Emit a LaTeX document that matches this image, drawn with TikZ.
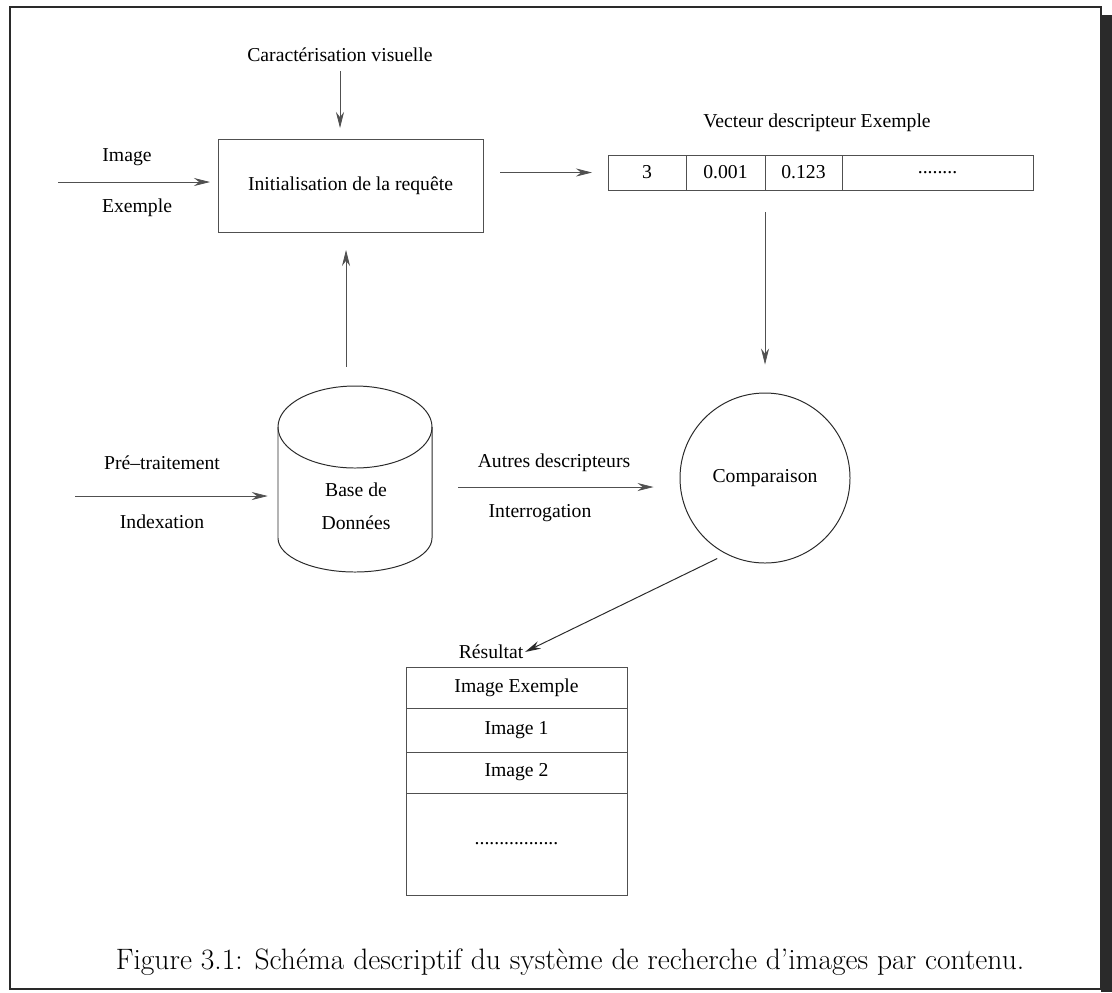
\documentclass[tikz,border=0pt]{standalone}
\usepackage{fontspec}
\usepackage{xcolor}
\usetikzlibrary{arrows.meta,positioning}
\newfontfamily\diagfont{Liberation Serif}
\definecolor{lineGray}{HTML}{505050}
\definecolor{frameDark}{HTML}{2A2A2A}

\begin{document}
\begin{tikzpicture}[x=0.25mm,y=-0.25mm,
  lbl/.style={font=\diagfont\fontsize{14}{17}\selectfont,inner sep=2pt},
  box/.style={draw=lineGray,line width=0.6pt,inner sep=0pt,outer sep=0pt,font=\diagfont\fontsize{14}{17}\selectfont},
  cell/.style={box,minimum height=8.75mm},
  row/.style={box,minimum width=55.25mm},
  arr/.style={-{Stealth[length=4mm,width=2mm]},line width=0.5pt,lineGray}
]
\useasboundingbox (0,0) rectangle (1112,992);
% page frame
\draw[line width=0.8pt,frameDark] (10,7) rectangle (1101,989);
\fill[frameDark] (1101,15) rectangle (1112,992);

% query box
\node[box,minimum width=66.25mm,minimum height=23.25mm] (init) at (350.5,185.5) {Initialisation de la requête};
\node[lbl] (cara) at (340,55) {Caractérisation visuelle};
\node[lbl] (img) at (127,157) {Image};
\node[lbl] (exm) at (137,208) {Exemple};
\coordinate (imgin) at (58,182);
\draw[arr] (cara.south) -- (cara.south |- init.north) [shorten <=1.5mm,shorten >=2.75mm];
\draw[arr,shorten >=2mm] (imgin) -- (imgin -| init.west);

% descriptor vector
\node[cell,minimum width=19.5mm] (v1) at (647,172.5) {3};
\node[cell,minimum width=19.75mm,right=0pt of v1] (v2) {0.001};
\node[cell,minimum width=19.25mm,right=0pt of v2] (v3) {0.123};
\node[cell,minimum width=47.75mm,right=0pt of v3] (v4) {........};
\node[lbl] (vect) at (817,123) {Vecteur descripteur Exemple};
\draw[arr,shorten <=4.25mm,shorten >=4mm] (v1.west -| init.east) -- (v1.west);

% comparison
\node[draw=frameDark,line width=0.7pt,circle,minimum size=42.5mm,inner sep=0pt,
  font=\diagfont\fontsize{14}{17}\selectfont] (comp) at (765,478) {Comparaison};
\draw[arr,shorten <=5.5mm,shorten >=7mm] (v3.south west) -- (v3.south west |- comp.north);

% database
\node[minimum width=38.5mm,minimum height=46.5mm,inner sep=0pt] (db) at (355,479) {};
\draw[frameDark,line width=0.7pt] (355,427) ellipse (77 and 41);
\draw[frameDark,line width=0.7pt] (278,427) -- (278,538)
  arc[start angle=180,end angle=0,x radius=77,y radius=34] -- (432,427);
\node[lbl,align=center] (dbtxt) at (356,506) {Base de\\[2.25mm]Données};
\draw[arr,shorten <=4.75mm,shorten >=4.5mm] ([xshift=-2.25mm]db.north) -- ([xshift=-2.25mm]db.north |- init.south);

\node[lbl] (pre) at (162,463) {Pré–traitement};
\node[lbl] (idx) at (162,522) {Indexation};
\coordinate (prein) at (75,496);
\draw[arr,shorten >=2.5mm] (prein) -- (prein -| db.west);

\node[lbl] (aut) at (554,463) {Autres descripteurs};
\node[lbl] (intr) at (540,513) {Interrogation};
\coordinate (qry) at (458,487);
\draw[arr,shorten >=6.5mm] (qry) -- (qry -| comp.west);

% result list
\node[lbl,inner sep=1pt] (res) at (491,652) {Résultat};
\draw[arr,line width=0.7pt,frameDark,shorten <=2.5mm] (comp.243) -- (res.east);
\node[row,minimum height=10.25mm] (r1) at (516.5,687.5) {Image Exemple};
\node[row,minimum height=11mm,below=0pt of r1] (r2) {Image 1};
\node[row,minimum height=10.25mm,below=0pt of r2] (r3) {Image 2};
\node[row,minimum height=25.5mm,below=0pt of r3] (r4) {.................};

% caption
\node (cap) at (570,962) {\fontsize{21}{25}\selectfont Figure 3.1: Schéma descriptif du système de recherche d'images par contenu.};
\end{tikzpicture}
\end{document}
